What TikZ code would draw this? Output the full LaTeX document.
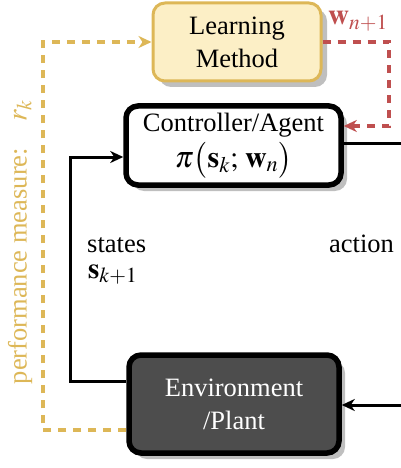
\documentclass[tikz,border=0pt]{standalone}
\usepackage{mathptmx}
\usepackage{fontspec}
\setmainfont{Liberation Serif}
\usetikzlibrary{shadows,arrows.meta}
\definecolor{gold}{HTML}{DDB757}
\definecolor{goldfill}{HTML}{FCEFC6}
\definecolor{redd}{HTML}{BF4F4F}
\definecolor{envgray}{HTML}{4D4D4D}
\tikzset{
  box/.style={rounded corners=12pt, align=center, inner sep=0pt,
    font=\fontsize{26.5}{33}\selectfont,
    drop shadow={shadow xshift=6pt, shadow yshift=-6pt, fill=black!25, opacity=1}},
  conn/.style={line width=3pt, -{Stealth[length=13pt,width=12pt,inset=4pt]}},
  yconn/.style={conn, draw=gold, line width=3.2pt, dash pattern=on 8pt off 7pt},
  rconn/.style={conn, draw=redd, line width=3.2pt, dash pattern=on 8pt off 7pt},
  lbl/.style={font=\fontsize{26.5}{30}\selectfont, inner sep=0pt},
  mlbl/.style={font=\fontsize{29}{30}\selectfont, inner sep=0pt}
}
\begin{document}
\begin{tikzpicture}[x=1pt,y=-1pt]
\useasboundingbox (0,0) rectangle (401,468);
\clip (0,0) rectangle (401,468);
\node[box, draw=gold, fill=goldfill, line width=3pt, minimum width=168pt, minimum height=78pt] (learn) at (237,42) {Learning\\Method};
\node[box, draw=black, fill=white, line width=5.5pt, minimum width=215pt, minimum height=79pt] (ctrl) at (233.5,145.5) {Controller/Agent\\[3pt]{\fontsize{30}{30}\selectfont$\pi\bigl(\mathbf{s}_k;\,\mathbf{w}_n\bigr)$}};
\node[box, draw=black, fill=envgray, text=white, line width=5.5pt, minimum width=210pt, minimum height=98pt] (env) at (234,404) {Environment\\/Plant};
\coordinate (oR) at (410,143);
\coordinate (iR) at (410,405);
% controller output
\draw[line width=3pt] (ctrl.east |- oR) -- (oR);
% input to environment
\draw[conn] (iR) -- (env.east |- iR);
% states feedback
\draw[conn] (env.west |- 0,381) -- (70,381) -- (70,157) -- (ctrl.west |- 0,157);
% performance measure
\draw[yconn] (env.west |- 0,430) -- (43,430) -- (43,42) -- (learn.west);
% weights update
\draw[rconn] (learn.east) -- (389,42) -- (389,126) -- (ctrl.east |- 0,126);
% labels
\node[lbl, anchor=base west] (st) at (87,252) {states};
\node[mlbl, anchor=base west] (sk) at (88,278) {$\mathbf{s}_{k+1}$};
\node[lbl, anchor=base west] (act) at (329,252) {action};
\node[mlbl, anchor=base west, text=redd] (wn) at (328,25) {$\mathbf{w}_{n+1}$};
\node[lbl, text=gold, rotate=90] (pm) at (20,242) {performance measure:\quad{\fontsize{29}{30}\selectfont$r_k$}};
\end{tikzpicture}
\end{document}
